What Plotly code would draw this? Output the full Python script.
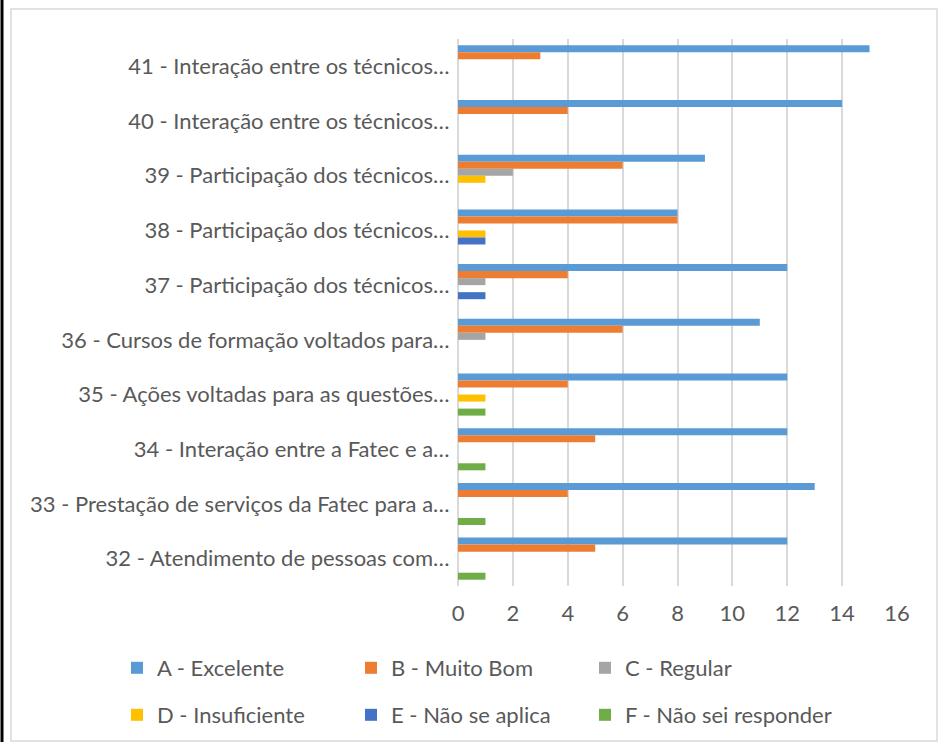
import plotly.graph_objects as go

categories = [
    "41 - Interação entre os técnicos…",
    "40 - Interação entre os técnicos…",
    "39 - Participação dos técnicos…",
    "38 - Participação dos técnicos…",
    "37 - Participação dos técnicos…",
    "36 - Cursos de formação voltados para…",
    "35 - Ações voltadas para as questões…",
    "34 - Interação entre a Fatec e a…",
    "33 - Prestação de serviços da Fatec para a…",
    "32 - Atendimento de pessoas com…",
]
excelente = [15, 14, 9, 8, 12, 11, 12, 12, 13, 12]
muito_bom = [3, 4, 6, 8, 4, 6, 4, 5, 4, 5]
regular = [0, 0, 2, 0, 1, 1, 0, 0, 0, 0]
insuficiente = [0, 0, 1, 1, 0, 0, 1, 0, 0, 0]
nao_aplica = [0, 0, 0, 1, 1, 0, 0, 0, 0, 0]
nao_sei = [0, 0, 0, 0, 0, 0, 1, 1, 1, 1]
x_ticks = [0, 2, 4, 6, 8, 10, 12, 14, 16]

series_names = ["A - Excelente", "B - Muito Bom", "C - Regular",
                "D - Insuficiente", "E - Não se aplica", "F - Não sei responder"]
series_values = [excelente, muito_bom, regular, insuficiente, nao_aplica, nao_sei]
series_colors = ["#5B9BD5", "#ED7D31", "#A5A5A5", "#FFC000", "#4472C4", "#70AD47"]

W, H = 939, 742
L, R, T, B = 458, 42, 39, 156
pw, ph = W - L - R, H - T - B

def px(x):
    return (x - L) / pw

def py(y):
    return (H - B - y) / ph

FONT = "Lato"
TXT = "#595959"
FS = 22

# legend slot pixel positions (left of item, row centre)
legend_cols = [117, 351, 585]
legend_rows = [668, 715]

fig = go.Figure()
layout_legends = {}
for i, (name, vals, color) in enumerate(zip(series_names, series_values, series_colors)):
    lg = "legend" if i == 0 else f"legend{i + 1}"
    fig.add_trace(go.Bar(
        y=categories, x=vals, name=name, orientation="h",
        marker=dict(color=color, line=dict(width=0)),
        legend=lg, showlegend=True,
    ))
    layout_legends[lg] = dict(
        orientation="h", yanchor="middle", xanchor="left",
        x=px(legend_cols[i % 3]), y=py(legend_rows[i // 3]),
        font=dict(size=FS, color=TXT), itemclick=False,
        bgcolor="rgba(0,0,0,0)",
    )

fig.update_layout(
    width=W, height=H,
    showlegend=True,
    margin=dict(l=L, r=R, t=T, b=B, autoexpand=False),
    paper_bgcolor="white", plot_bgcolor="white",
    barmode="group", bargap=0.23, bargroupgap=0,
    font=dict(family=FONT, size=FS, color=TXT),
    xaxis=dict(range=[0, 16], tickvals=x_ticks, showgrid=True,
               gridcolor="#D9D9D9", gridwidth=1.5, zeroline=True,
               zerolinecolor="#D9D9D9", zerolinewidth=1.5,
               showline=False, ticks="outside", ticklen=8, tickcolor="white",
               tickfont=dict(size=FS, color=TXT)),
    yaxis=dict(categoryorder="array", categoryarray=categories,
               autorange="reversed", showgrid=False, showline=False,
               ticks="outside", ticklen=3, tickcolor="white",
               tickfont=dict(size=FS, color=TXT)),
    shapes=[
        dict(type="rect", xref="paper", yref="paper",
             x0=px(11), x1=px(937), y0=py(741), y1=py(9),
             line=dict(color="#D9D9D9", width=1.5), fillcolor="rgba(0,0,0,0)", layer="below"),
        dict(type="line", xref="paper", yref="paper",
             x0=px(2), x1=px(2), y0=py(742), y1=py(0),
             line=dict(color="black", width=3)),
    ],
    **layout_legends,
)

fig.write_html("out.html", config={"displayModeBar": False},
               post_script="document.body.style.margin='0';")
